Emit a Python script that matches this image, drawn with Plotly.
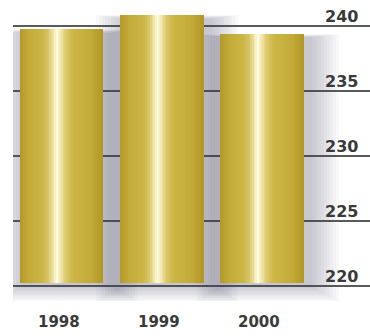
import plotly.graph_objects as go
from plotly.colors import sample_colorscale

# ---- data ----
years = ["1998", "1999", "2000"]
values = [239.75, 240.85, 239.4]
y_ticks = [220, 225, 230, 235, 240]
y_tick_labels = ["220", "225", "230", "235", "240"]

BASE = 220.25          # bars start just above the baseline
BAR_W = 0.826          # bar width in category units
PX_PER_CAT = 100.5     # pixels per category unit (for shadow spread)
PX_PER_UNIT = 13.0     # pixels per y unit

gold_scale = [
    [0.00, "rgb(180,153,40)"],
    [0.10, "rgb(194,170,56)"],
    [0.28, "rgb(204,182,70)"],
    [0.35, "rgb(216,198,106)"],
    [0.40, "rgb(238,226,162)"],
    [0.45, "rgb(255,252,226)"],
    [0.50, "rgb(240,228,166)"],
    [0.56, "rgb(218,200,108)"],
    [0.64, "rgb(204,182,70)"],
    [0.86, "rgb(195,171,56)"],
    [1.00, "rgb(178,151,38)"],
]

fig = go.Figure()

# ---- soft drop shadow (layered translucent bars) ----
K = 10
for k in range(K):
    s = 3 + 3 * k                      # spread in px
    dx = 5                              # shift right in px
    w = (83 + 2 * s) / PX_PER_CAT
    off = (-83 / 2 - s + dx) / PX_PER_CAT
    top_ext = (0.12 * s - 4) / PX_PER_UNIT
    bot_ext = (0.55 * s + 2) / PX_PER_UNIT
    fig.add_trace(go.Bar(
        x=[0, 1, 2],
        y=[v + top_ext - (BASE - bot_ext) for v in values],
        base=BASE - bot_ext,
        width=w, offset=off,
        marker=dict(color="rgba(70,70,82,0.03)", line=dict(width=0)),
        hoverinfo="skip", showlegend=False,
    ))

# ---- golden cylindrical bars (vertical strips of a gradient) ----
N = 50
cols = sample_colorscale(gold_scale, [(i + 0.5) / N for i in range(N)])
sw = BAR_W / N
for i in range(N):
    fig.add_trace(go.Bar(
        x=[0, 1, 2],
        y=[v - BASE for v in values],
        base=BASE,
        width=sw * 1.2 if i < N - 1 else sw,
        offset=-BAR_W / 2 + i * sw,
        marker=dict(color=cols[i], line=dict(width=0)),
        hoverinfo="skip", showlegend=False,
    ))

# ---- y tick labels (above gridlines, right aligned) ----
for t, lab in zip(y_ticks, y_tick_labels):
    fig.add_annotation(
        x=0.972, xref="paper", y=t, yref="y",
        xanchor="right", yanchor="bottom", yshift=-2,
        text="<b>%s</b>" % lab, showarrow=False,
        font=dict(family="DejaVu Sans", size=16, color="#3a3a3a"),
    )

# ---- x category labels ----
for i, yr in enumerate(years):
    fig.add_annotation(
        x=i, xref="x", y=220, yref="y",
        xanchor="center", yanchor="top", yshift=-25, xshift=-3,
        text="<b>%s</b>" % yr, showarrow=False,
        font=dict(family="DejaVu Sans", size=15, color="#3a3a3a"),
    )

fig.update_layout(
    width=370, height=336,
    margin=dict(l=13, r=0, t=0, b=0),
    paper_bgcolor="white", plot_bgcolor="white",
    barmode="overlay", bargap=0,
    showlegend=False,
    xaxis=dict(type="linear", range=[-0.483, 3.07],
               showgrid=False, showticklabels=False, zeroline=False,
               showline=False, fixedrange=True),
    yaxis=dict(range=[220 - 50 / 13, 242], tickvals=y_ticks,
               showticklabels=False, showgrid=True, gridcolor="#5a5a5a",
               gridwidth=1.5, zeroline=False, showline=False, fixedrange=True),
)

fig.write_html("out.html", config={"displayModeBar": False})
